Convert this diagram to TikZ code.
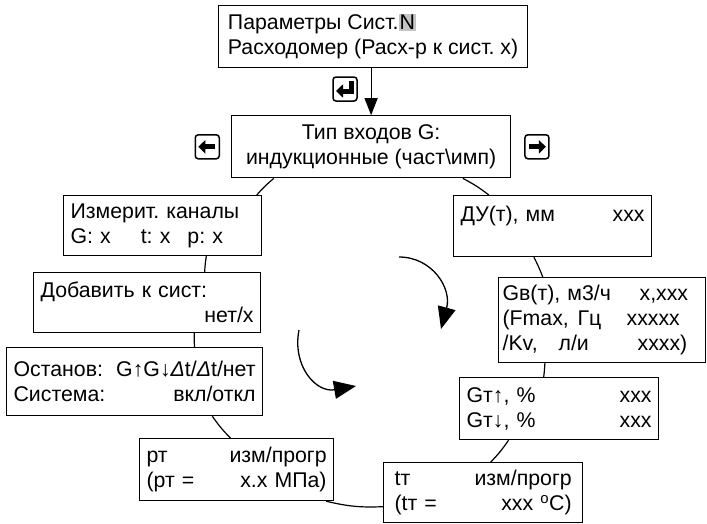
\documentclass[tikz,border=0pt]{standalone}
\usepackage{fontspec}
\setmainfont{Liberation Sans}
\usepackage{tikz}
\usetikzlibrary{arrows.meta,positioning}
\definecolor{ink}{RGB}{0,0,0}
\definecolor{keygray}{RGB}{196,196,196}
\newcommand{\col}[2]{\makebox[#1][l]{#2}}
\setlength{\fboxsep}{1pt}
\frenchspacing
\tikzset{
  menubox/.style={draw=ink, line width=1.2pt, fill=white, align=left, anchor=north west,
    inner xsep=7pt, inner ysep=2pt, font=\fontsize{21.3}{25}\selectfont},
  keybox/.style={draw=ink, line width=1.5pt, rounded corners=3pt, minimum size=24pt, inner sep=0pt},
  keyarrow/.style={line width=5pt, -{Triangle[length=7pt,width=13pt]}},
  link/.style={line width=1.2pt},
  flow/.style={-{Triangle[length=17pt,width=13pt]}, line width=1.2pt},
  turn/.style={-{Triangle[length=22pt,width=18pt]}, line width=1.3pt}
}
\begin{document}
\begin{tikzpicture}[x=1pt, y=-1pt]
\useasboundingbox (0,0) rectangle (707,523);

% menu head
\node[menubox, minimum width=309pt, minimum height=62pt] (sys) at (218,5)
  {Параметры Сист.\colorbox{keygray}{N}\\Расходомер (Расх-р к сист. х)};
\node[menubox, align=center, minimum width=279pt, minimum height=62pt,
  below=47pt of sys, xshift=-2pt] (typ) {Тип входов G:\\индукционные (част\textbackslash имп)};
\draw[flow] (typ.north |- sys.south) -- (typ.north);

% keys
\node[keybox] (enter) at (345,89) {};
\node[keybox, left=11pt of typ] (back) {};
\node[keybox, right=13pt of typ] (fwd) {};
\draw[keyarrow] ([shift={(6pt,8pt)}]enter.center) -- ([shift={(6pt,-2pt)}]enter.center)
  -- ([shift={(-9pt,-2pt)}]enter.center);
\draw[keyarrow] ([xshift=8pt]back.center) -- ([xshift=-9pt]back.center);
\draw[keyarrow] ([xshift=-8pt]fwd.center) -- ([xshift=9pt]fwd.center);

% left ring
\node[menubox, text width=184pt, minimum height=60pt] (izm) at (63,195)
  {Измерит. каналы\\G: x\hspace{30pt}t: x\hspace{17pt}p: x};
\node[menubox, text width=213pt, minimum height=60pt] (dob) at (33,272)
  {Добавить к сист:\\\hfill нет/х\hspace*{33pt}};
\node[menubox, text width=242pt, minimum height=68pt] (ost) at (6,347)
  {Останов:\hfill G↑G↓{\itshape Δ}t/{\itshape Δ}t/нет\\Система:\hfill вкл/откл};
\node[menubox, text width=180pt, minimum height=62pt] (pt) at (139,438)
  {рт\hfill изм/прогр\\(рт =\hfill х.х МПа)};

% right ring
\node[menubox, text width=184pt, minimum height=61pt] (du) at (453,195)
  {ДУ(т), мм\hfill ххх\hspace*{1pt}\\\mbox{}};
\node[menubox, inner xsep=4pt, text width=199pt, minimum height=85pt] (gv) at (498,277)
  {\col{137pt}{Gв(т), м3/ч}х,ххх\\\col{75pt}{(Fmax,}\col{49pt}{Гц}ххххх\\\col{56pt}{/Kv,}\col{79pt}{л/и}хххх)};
\node[menubox, text width=185pt, minimum height=62pt] (gt) at (459,377)
  {Gт↑, \%\hfill ххх\hspace*{17pt}\\Gт↓, \%\hfill ххх\hspace*{17pt}};
\node[menubox, inner xsep=11pt, text width=177pt, minimum height=60pt] (tt) at (383,462)
  {tт\hfill изм/прогр\hspace*{9pt}\\(tт =\hfill xxx \textsuperscript{o}C)};

\draw[link] (typ.198.5) to[bend right=5] (izm.18.2);
\draw[link] (izm.325.1) to[bend right=3] (dob.28.8);
\draw[link] (dob.327.2) to[bend right=2] (ost.30);
\draw[link] (ost.336.7) to[bend right=5] (pt.101);
\draw[link] ([xshift=-8pt]pt.south east) to[bend right=8] (tt.188);
\draw[link] (typ.341.5) to[bend left=5] (du.154.5);
\draw[link] (du.239.4) to[bend left=3] (gv.144.5);
\draw[link] (gv.217) to[bend left=2] (gt.116.6);
\draw[link] (gt.212.6) to[bend left=5] (tt.76);

% turn arrows
\coordinate (t1a) at (399,257);
\coordinate (t1b) at (441,329);
\draw[turn] (t1a) .. controls (432,257) and (452,288) .. (t1b);
\coordinate (t2a) at (299,330);
\coordinate (t2b) at (356,386);
\draw[turn] (t2a) .. controls (292,366) and (316,393) .. (t2b);
\end{tikzpicture}
\end{document}
